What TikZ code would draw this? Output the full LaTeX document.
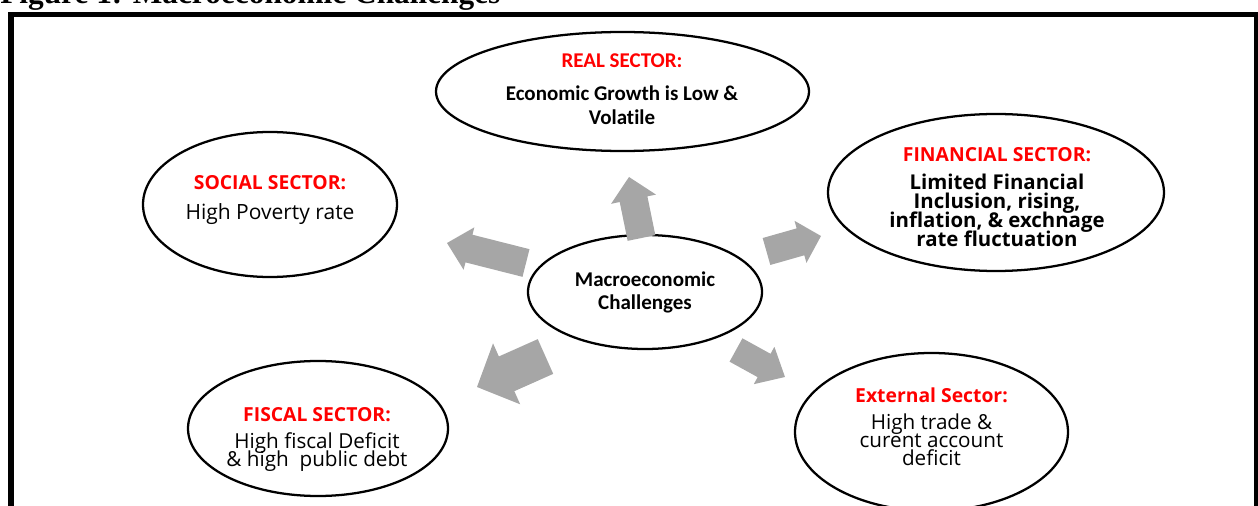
\documentclass[tikz,border=0pt]{standalone}
\usepackage{fontspec}
\setmainfont{Carlito}
\newfontfamily\calibrifont[Ligatures=NoCommon]{Carlito}
\newfontfamily\roundfont{Open Sans}
\newfontfamily\titlefont{Liberation Serif}
\usetikzlibrary{shapes.geometric,calc}
\definecolor{arrowgrey}{RGB}{166,166,166}
\definecolor{headred}{RGB}{255,0,0}
\lineskiplimit=-100pt

% block arrow: #1 base, #2 tip, #3 half shaft width, #4 half head width, #5 head length
\newcommand\blockarrow[5]{%
  \coordinate (neck) at ($(#2)!#5!(#1)$);
  \fill[arrowgrey] ($(#1)!#3!90:(#2)$) -- ($(neck)!#3!90:(#2)$) -- ($(neck)!#4!90:(#2)$) -- (#2)
    -- ($(neck)!#4!-90:(#2)$) -- ($(neck)!#3!-90:(#2)$) -- ($(#1)!#3!-90:(#2)$) -- cycle;}

\tikzset{
  sector/.style={ellipse, draw=black, line width=1.7pt, inner sep=0pt, fill=white},
  lbl/.style={align=center, inner sep=0pt},
}
\newcommand\hd[1]{{\bfseries\fontsize{14.5pt}{13.5pt}\selectfont\color{headred}#1}}

\begin{document}
\begin{tikzpicture}[x=0.75pt,y=-0.75pt]
\useasboundingbox (0,0) rectangle (1258,506);

% caption and frame
\node[anchor=base west, inner sep=0pt, font=\titlefont\bfseries\fontsize{23.5pt}{28pt}\selectfont] (title) at (0,4) {Figure 1: Macroeconomic Challenges};
\draw[line width=4.2pt] (11,14.5) rectangle (1256.5,540);

% sectors
\node[sector, minimum width=279.75pt, minimum height=89.25pt] (real) at (622.5,91.5) {};
\node[sector, minimum width=190.5pt, minimum height=108.75pt] (social) at (270,204.5) {};
\node[sector, minimum width=252pt, minimum height=117.75pt] (financial) at (996,192.5) {};
\node[sector, minimum width=195pt, minimum height=101.25pt] (fiscal) at (318,428.5) {};
\node[sector, minimum width=204.75pt, minimum height=118.5pt] (external) at (931.5,432) {};
\node[sector, minimum width=175.5pt, minimum height=85.5pt, align=center,
      font=\calibrifont\bfseries\fontsize{15.75pt}{17.25pt}\selectfont] (macro) at (645,292)
      {Macroeconomic\\ Challenges};

% arrows out of the centre
\coordinate (upB) at (641.5,238);   \coordinate (upT) at (629,177);
\coordinate (ulB) at (526,263);     \coordinate (ulT) at (447,243);
\coordinate (urB) at (766.5,251.5); \coordinate (urT) at (821,236);
\coordinate (llB) at (545.5,356.5); \coordinate (llT) at (477,387);
\coordinate (lrB) at (736,350);     \coordinate (lrT) at (785,377);
\blockarrow{upB}{upT}{10.6pt}{17.2pt}{17pt}
\blockarrow{ulB}{ulT}{10.7pt}{16.4pt}{17pt}
\blockarrow{urB}{urT}{10.5pt}{16.4pt}{16pt}
\blockarrow{llB}{llT}{14.25pt}{25pt}{24.3pt}
\blockarrow{lrB}{lrT}{10pt}{16pt}{17.9pt}

% sector texts
\node[lbl, font=\calibrifont\bfseries\fontsize{15.75pt}{18pt}\selectfont] (realT) at (622,89)
  {\textcolor{headred}{REAL SECTOR:}\\[6.75pt] Economic Growth is Low \&\\ Volatile};
\node[lbl, font=\roundfont\fontsize{15.75pt}{13.5pt}\selectfont] (socialT) at (270,200.5)
  {\hd{SOCIAL SECTOR:}\\[9pt] High Poverty rate};
\node[lbl, font=\roundfont\bfseries\fontsize{15.3pt}{14.25pt}\selectfont] (financialT) at (997,197.5)
  {\hd{FINANCIAL SECTOR:}\\[6.75pt] Limited Financial\\ Inclusion, rising,\\ inflation, \& exchnage\\ rate fluctuation};
\node[lbl, font=\roundfont\fontsize{15.5pt}{13.5pt}\selectfont] (fiscalT) at (317,439)
  {\hd{FISCAL SECTOR:}\\[6.75pt] High fiscal Deficit\\ \& high~ public debt};
\node[lbl, font=\roundfont\fontsize{15.5pt}{13.5pt}\selectfont] (externalT) at (931.5,427)
  {\hd{External Sector:}\\[6.75pt] High trade \&\\ curent account\\ deficit};
\end{tikzpicture}
\end{document}
